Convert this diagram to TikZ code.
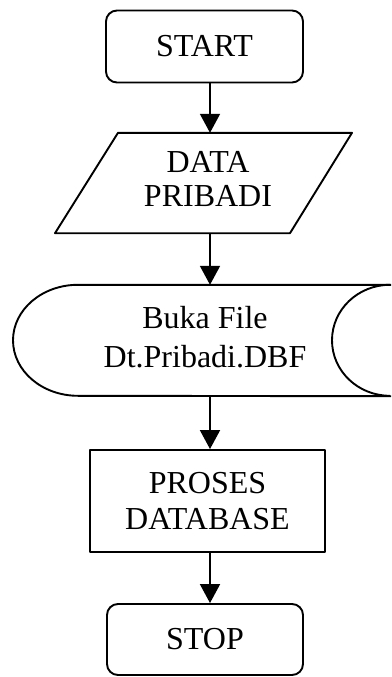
\documentclass[tikz,border=0pt]{standalone}
\usepackage{fontspec}
\setmainfont{Liberation Serif}
\usetikzlibrary{arrows.meta,calc}
\begin{document}
\begin{tikzpicture}[x=1pt,y=-1pt,
  lbl/.style={font=\fontsize{32}{34}\selectfont, align=center, inner sep=0pt},
  shp/.style={line width=1.9pt, line join=round},
  term/.style={lbl, shp, draw, rectangle, rounded corners=11pt},
  procbox/.style={lbl, shp, draw, rectangle},
  arr/.style={line width=1.9pt, -{Triangle[length=19pt,width=20pt]}}]
\useasboundingbox (0,0) rectangle (391,677);
\fill[white] (0,0) rectangle (391,677);
\coordinate (spine) at (210,0);
% START
\node[term, minimum width=197pt, minimum height=72pt] (start) at (204.5,46.5) {START};
% DATA PRIBADI (parallelogram)
\node[lbl, minimum width=150pt, minimum height=100pt] (data) at (208,183) {\raisebox{2pt}{\begin{tabular}{@{}c@{}}DATA\\PRIBADI\end{tabular}}};
\draw[shp] ($(data.south)+(-153,0)$) -- ($(data.south)+(82,0)$)
  -- ($(data.north)+(144,0)$) -- ($(data.north)+(-90,0)$) -- cycle;
% Buka File (stored data)
\node[lbl, font=\fontsize{32}{39}\selectfont, minimum width=200pt, minimum height=111pt] (file) at (205,340.5) {\raisebox{4pt}{\begin{tabular}{@{}c@{}}Buka File\\Dt.Pribadi.DBF\end{tabular}}};
\draw[shp] ($(file.north)+(186,0)$) -- ($(file.north)+(-127,0)$)
  arc[start angle=270, end angle=90, x radius=65, y radius=55.5]
  -- ($(file.south)+(186,0)$);
\draw[shp] ($(file.north)+(185,0)$)
  arc[start angle=270, end angle=90, x radius=58, y radius=55.5];
% PROSES DATABASE
\node[procbox, font=\fontsize{32}{36}\selectfont, minimum width=235pt, minimum height=102pt] (proc) at (207.5,501) {PROSES\\DATABASE};
% STOP
\node[term, minimum width=196pt, minimum height=71pt] (stop) at (205,639.5) {\raisebox{2pt}{STOP}};
% connectors
\draw[arr] (start.south -| spine) -- (data.north -| spine);
\draw[arr] (data.south -| spine) -- (file.north -| spine);
\draw[arr] (file.south -| spine) -- (proc.north -| spine);
\draw[arr] (proc.south -| spine) -- (stop.north -| spine);
\end{tikzpicture}
\end{document}
